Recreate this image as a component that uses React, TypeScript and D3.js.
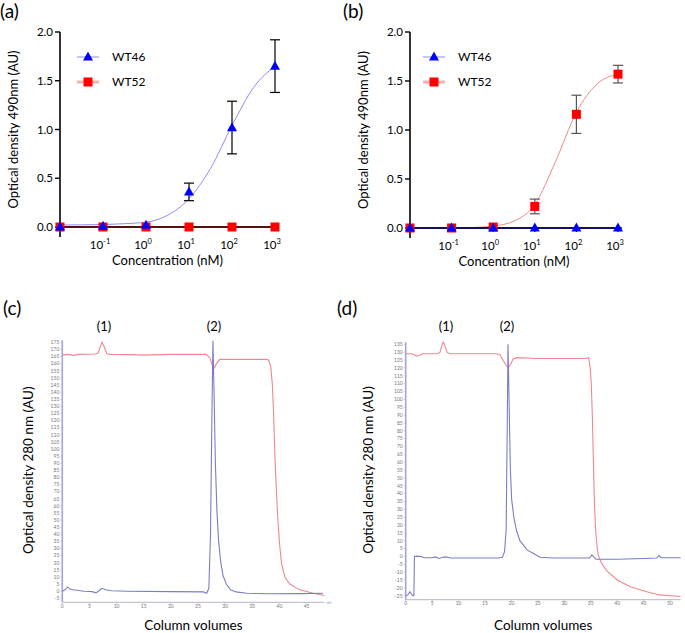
import React from "react";
import * as d3 from "d3";

// ---- dose response (a) / (b) ----
// x positions as log10(nM); the first point (-2) sits on the y axis
const concExp = [-2, -1, 0, 1, 2, 3];
const concTicks = [-1, 0, 1, 2, 3];
const odTicks = [0, 0.5, 1.0, 1.5, 2.0];

const wt46A = [0.0, 0.01, 0.02, 0.36, 1.02, 1.65];
const wt46AErr = [0, 0, 0, 0.09, 0.27, 0.27];
const wt52A = [0, 0, 0, 0, 0, 0];

const wt46B = [0, 0, 0, 0, 0, 0];
const wt52B = [0.0, 0.0, 0.01, 0.22, 1.16, 1.57];
const wt52BErr = [0, 0, 0, 0.075, 0.195, 0.09];

// fitted curves
const fitExp = [-2, -1.5, -1, -0.5, 0, 0.5, 1, 1.5, 2, 2.5, 3];
const fitA46 = [0.02, 0.022, 0.025, 0.034, 0.05, 0.12, 0.29, 0.6, 1.04, 1.43, 1.65];
const fitB52 = [0, 0, 0, 0.005, 0.02, 0.07, 0.24, 0.68, 1.18, 1.47, 1.57];
const fitFlat = [0, 0, 0, 0, 0, 0, 0, 0, 0, 0, 0];

// ---- chromatograms (c) / (d): [column volume, OD] ----
const cRed: [number, number][] = [
  [0, 166], [1, 166.5], [1.8, 166], [2.2, 165.8], [3, 166.5], [6, 166.8], [6.6, 167.5],
  [7, 172], [7.3, 175], [7.7, 172], [8.2, 167], [9, 166.5], [12, 166.3], [15, 166],
  [20, 166.5], [26.5, 166.5], [27.2, 164], [27.7, 158], [28, 157], [28.4, 160], [29, 163],
  [35, 163], [37.5, 163], [38, 162.5], [38.4, 158], [38.7, 145], [38.9, 127], [39.2, 92],
  [39.5, 65], [39.8, 45], [40.1, 30], [40.4, 19], [41, 10], [41.9, 5], [43, 2.5],
  [43.8, 1], [46.2, -1.5], [48.3, -3],
];
const cBlue: [number, number][] = [
  [0, 0], [0.5, 1], [1, 3], [1.4, 1.5], [2, 1], [3, 0.5], [4, 0], [5.5, -0.3], [6.2, -1.2],
  [6.8, 0.5], [7.3, 2], [8, 1], [9, 0.3], [12, 0], [20, -0.3], [26, -0.5], [26.6, -1.5],
  [27, 2], [27.3, 40], [27.55, 120], [27.75, 176], [27.95, 140], [28.2, 90], [28.5, 55],
  [28.8, 35], [29.2, 20], [29.6, 11], [30.2, 5], [31, 1], [32, -0.5], [34, -1.5],
  [38, -1.8], [44, -1.7], [48, -1.5],
];
const dRed: [number, number][] = [
  [0, 129], [1, 129], [1.6, 128.5], [2, 127.5], [2.6, 128], [3.2, 129], [6, 129],
  [6.5, 130], [6.8, 134], [7.1, 136.5], [7.4, 134], [7.8, 130], [8.4, 129], [12, 129],
  [17, 129], [17.8, 128.5], [18.4, 125], [19, 121.5], [19.4, 120], [19.8, 122],
  [20.3, 125.5], [21, 126.5], [25, 126], [34, 126], [34.6, 126.5], [34.9, 120],
  [35.1, 110], [35.3, 90], [35.5, 61], [35.7, 35], [35.9, 18], [36.2, 6], [36.5, 0],
  [37, -4], [38, -9], [40, -15], [42.6, -19.5], [45.6, -22.5], [48, -24.5], [52, -25.5],
];
const dBlue: [number, number][] = [
  [0, -25], [0.4, -24.5], [0.8, -22.5], [1.1, -24], [1.4, -25], [1.55, -25], [1.65, 0],
  [2, 0.2], [3, 0], [3.5, -0.8], [5, -0.8], [5.6, -0.3], [6.3, -1.3], [7, -0.5],
  [7.6, -0.3], [8.5, -1], [12, -1], [17.5, -1], [18.3, -0.5], [18.7, 3], [19, 17],
  [19.2, 80], [19.35, 135], [19.55, 100], [19.8, 55], [20.05, 36], [20.5, 24], [21, 16],
  [21.6, 10], [22.3, 7], [23, 4], [24.1, 2], [25.4, -0.5], [28, -1], [34.8, -1],
  [35.2, 1], [35.6, -0.5], [36, -1.8], [40, -1.8], [45, -1.3], [47.5, -1], [47.9, 0.5],
  [48.3, -0.8], [52, -0.8],
];
const cYTicks = d3.range(-5, 176, 5);
const dYTicks = d3.range(-25, 136, 5);
const cXTicks = d3.range(0, 46, 5);
const dXTicks = d3.range(0, 51, 5);

const FONT = "Lato, 'Open Sans', sans-serif";
const BLUE = "#0000ff";
const RED = "#ff0000";

function Triangle({ x, y, s = 10 }: { x: number; y: number; s?: number }) {
  const h = s * 0.9;
  return (
    <path
      d={`M${x},${y - h * 0.6}L${x + s / 2},${y + h * 0.4}L${x - s / 2},${y + h * 0.4}Z`}
      fill={BLUE}
    />
  );
}

function Square({ x, y, s = 9 }: { x: number; y: number; s?: number }) {
  return <rect x={x - s / 2} y={y - s / 2} width={s} height={s} fill={RED} />;
}

function DosePanel(props: {
  tag: string;
  tagX: number;
  xRange: [number, number];
  yRange: [number, number];
  wt46: number[];
  wt46Err?: number[];
  wt52: number[];
  wt52Err?: number[];
  fit46: number[];
  fit52: number[];
  baseColor: string;
  errColor: string;
  legendX: number;
  labelX: number;
}) {
  const x = d3.scaleLinear().domain([-2, 3]).range(props.xRange);
  const y = d3.scaleLinear().domain([0, 2]).range(props.yRange);
  const line = d3
    .line<number>()
    .x((_, i) => x(fitExp[i]))
    .y((d) => y(d))
    .curve(d3.curveMonotoneX);
  const x0 = props.xRange[0];
  const y0 = y(0);
  const midY = (y(0) + y(2)) / 2;
  const midX = (props.xRange[0] + props.xRange[1]) / 2;

  const errBars = (vals: number[], errs: number[] | undefined) =>
    errs
      ? vals.map((v, i) =>
          errs[i] > 0 ? (
            <g key={i} stroke={props.errColor} strokeWidth={1.2}>
              <line x1={x(concExp[i])} x2={x(concExp[i])} y1={y(v - errs[i])} y2={y(v + errs[i])} />
              <line x1={x(concExp[i]) - 5} x2={x(concExp[i]) + 5} y1={y(v - errs[i])} y2={y(v - errs[i])} />
              <line x1={x(concExp[i]) - 5} x2={x(concExp[i]) + 5} y1={y(v + errs[i])} y2={y(v + errs[i])} />
            </g>
          ) : null
        )
      : null;

  return (
    <g fontFamily={FONT}>
      <text x={props.tagX} y={18} fontSize={19}>{props.tag}</text>
      {/* axes */}
      <line x1={x0} x2={x0} y1={y(2)} y2={y0 + 10} stroke="#000" strokeWidth={1.6} />
      <line x1={x0} x2={x(3) + 4} y1={y0} y2={y0} stroke="#000" strokeWidth={1.6} />
      {odTicks.map((t) => (
        <g key={t}>
          <line x1={x0 - 5} x2={x0} y1={y(t)} y2={y(t)} stroke="#000" strokeWidth={1.4} />
          <text x={x0 - 7} y={y(t) + 4} fontSize={11.5} textAnchor="end">{t.toFixed(1)}</text>
        </g>
      ))}
      {concTicks.map((t) => (
        <g key={t}>
          <line x1={x(t)} x2={x(t)} y1={y0} y2={y0 + 4} stroke="#000" strokeWidth={1.2} />
          <text x={x(t) - 3} y={y0 + 22} fontSize={11.5} textAnchor="middle">
            10<tspan dy={-5} fontSize={7.5}>{t}</tspan>
          </text>
        </g>
      ))}
      <text x={midX} y={y0 + 38} fontSize={13} textAnchor="middle">Concentration (nM)</text>
      <text
        transform={`translate(${props.labelX},${midY}) rotate(-90)`}
        fontSize={13}
        textAnchor="middle"
      >
        Optical density 490nm (AU)
      </text>
      {/* fits */}
      <path d={line(props.fit46) || ""} fill="none" stroke="#8c8cf0" strokeWidth={1} />
      <path d={line(props.fit52) || ""} fill="none" stroke="#f08a8a" strokeWidth={1} />
      <line x1={x0} x2={x(3)} y1={y0} y2={y0} stroke={props.baseColor} strokeWidth={2} />
      {errBars(props.wt46, props.wt46Err)}
      {errBars(props.wt52, props.wt52Err)}
      {props.wt52.map((v, i) => <Square key={"s" + i} x={x(concExp[i])} y={y(v)} />)}
      {props.wt46.map((v, i) => <Triangle key={"t" + i} x={x(concExp[i])} y={y(v)} />)}
      {/* legend */}
      <line x1={props.legendX - 11} x2={props.legendX + 11} y1={57} y2={57} stroke="#8c8cf0" strokeWidth={1} />
      <Triangle x={props.legendX} y={57} />
      <text x={props.legendX + 24} y={61} fontSize={12}>WT46</text>
      <line x1={props.legendX - 11} x2={props.legendX + 11} y1={82} y2={82} stroke="#f7b0b0" strokeWidth={3} />
      <Square x={props.legendX} y={82} />
      <text x={props.legendX + 24} y={86} fontSize={12}>WT52</text>
    </g>
  );
}

function ChromPanel(props: {
  tag: string;
  tagX: number;
  xDomain: [number, number];
  xRange: [number, number];
  yDomain: [number, number];
  yRange: [number, number];
  xTicks: number[];
  yTicks: number[];
  red: [number, number][];
  blue: [number, number][];
  p1X: number;
  p2X: number;
  labelX: number;
  showUnit: boolean;
}) {
  const x = d3.scaleLinear().domain(props.xDomain).range(props.xRange);
  const y = d3.scaleLinear().domain(props.yDomain).range(props.yRange);
  const line = d3
    .line<[number, number]>()
    .x((d) => x(d[0]))
    .y((d) => y(d[1]));
  const x0 = props.xRange[0];
  const axisY = props.yRange[0] + 4;
  const top = props.yRange[1] - 2;
  const midX = (props.xRange[0] + props.xRange[1]) / 2;
  return (
    <g fontFamily={FONT}>
      <text x={props.tagX} y={315} fontSize={19}>{props.tag}</text>
      <text x={props.p1X} y={331} fontSize={13} textAnchor="middle">(1)</text>
      <text x={props.p2X} y={331} fontSize={13} textAnchor="middle">(2)</text>
      <line x1={x0} x2={x0} y1={top} y2={axisY} stroke="#a4a4d8" strokeWidth={1.6} />
      <line x1={x0} x2={props.xRange[1]} y1={axisY} y2={axisY} stroke="#b4b4cc" strokeWidth={1} />
      {props.yTicks.map((t) => (
        <g key={t}>
          <line x1={x0 - 2} x2={x0} y1={y(t)} y2={y(t)} stroke="#b0b0c8" strokeWidth={0.6} />
          <text x={x0 - 3} y={y(t) + 1.8} fontSize={5} fill="#777" textAnchor="end">{t}</text>
        </g>
      ))}
      {props.xTicks.map((t) => (
        <g key={t}>
          <line x1={x(t)} x2={x(t)} y1={axisY} y2={axisY + 2} stroke="#b0b0c8" strokeWidth={0.6} />
          <text x={x(t)} y={axisY + 5.5} fontSize={5} fill="#777" textAnchor="middle">{t}</text>
        </g>
      ))}
      {props.showUnit ? (
        <text x={props.xRange[1] + 2} y={axisY + 1.5} fontSize={4.5} fill="#8c8cd0">ml</text>
      ) : null}
      <path d={line(props.red) || ""} fill="none" stroke="#ee8790" strokeWidth={1.1} />
      <path d={line(props.blue) || ""} fill="none" stroke="#7c7cc6" strokeWidth={1.1} />
      <text x={midX} y={630} fontSize={13.5} textAnchor="middle">Column volumes</text>
      <text
        transform={`translate(${props.labelX},${(props.yRange[0] + props.yRange[1]) / 2}) rotate(-90)`}
        fontSize={13.5}
        textAnchor="middle"
      >
        Optical density 280 nm (AU)
      </text>
    </g>
  );
}

export default function App() {
  return (
    <svg
      width={685}
      height={633}
      style={{ position: "absolute", left: 0, top: 0, background: "#fff" }}
    >
      <DosePanel
        tag="(a)"
        tagX={0}
        xRange={[60, 275]}
        yRange={[227, 32]}
        wt46={wt46A}
        wt46Err={wt46AErr}
        wt52={wt52A}
        fit46={fitA46}
        fit52={fitFlat}
        baseColor="#5a1010"
        errColor="#000"
        legendX={88}
        labelX={18}
      />
      <DosePanel
        tag="(b)"
        tagX={343}
        xRange={[410, 618]}
        yRange={[228, 32]}
        wt46={wt46B}
        wt52={wt52B}
        wt52Err={wt52BErr}
        fit46={fitFlat}
        fit52={fitB52}
        baseColor="#101060"
        errColor="#555"
        legendX={434}
        labelX={368}
      />
      <ChromPanel
        tag="(c)"
        tagX={3}
        xDomain={[0, 48.3]}
        xRange={[62.3, 324.5]}
        yDomain={[-5, 175]}
        yRange={[598.3, 342.3]}
        xTicks={cXTicks}
        yTicks={cYTicks}
        red={cRed}
        blue={cBlue}
        p1X={104}
        p2X={214}
        labelX={33}
        showUnit={true}
      />
      <ChromPanel
        tag="(d)"
        tagX={337}
        xDomain={[0, 52]}
        xRange={[405.7, 680.6]}
        yDomain={[-25, 135]}
        yRange={[595.7, 344.3]}
        xTicks={dXTicks}
        yTicks={dYTicks}
        red={dRed}
        blue={dBlue}
        p1X={446}
        p2X={507}
        labelX={373}
        showUnit={false}
      />
    </svg>
  );
}
